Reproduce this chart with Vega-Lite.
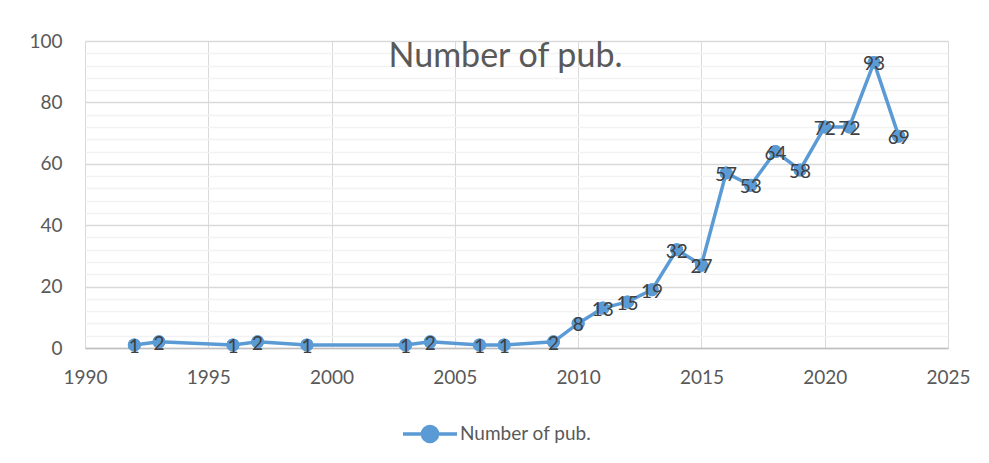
{
  "$schema": "https://vega.github.io/schema/vega-lite/v6.json",
  "width": 863,
  "height": 307,
  "autosize": {"type": "none"},
  "padding": {"left": 85, "top": 41, "right": 41, "bottom": 115},
  "background": "white",
  "title": {
    "text": "Number of pub.",
    "font": "Lato",
    "fontSize": 34,
    "fontWeight": "normal",
    "color": "#595959",
    "anchor": "middle",
    "baseline": "alphabetic",
    "offset": 0,
    "dy": 69,
    "dx": -11
  },
  "data": {
    "values": [
      {"year": 1992, "count": 1, "series": "Number of pub."},
      {"year": 1993, "count": 2, "series": "Number of pub."},
      {"year": 1996, "count": 1, "series": "Number of pub."},
      {"year": 1997, "count": 2, "series": "Number of pub."},
      {"year": 1999, "count": 1, "series": "Number of pub."},
      {"year": 2003, "count": 1, "series": "Number of pub."},
      {"year": 2004, "count": 2, "series": "Number of pub."},
      {"year": 2006, "count": 1, "series": "Number of pub."},
      {"year": 2007, "count": 1, "series": "Number of pub."},
      {"year": 2009, "count": 2, "series": "Number of pub."},
      {"year": 2010, "count": 8, "series": "Number of pub."},
      {"year": 2011, "count": 13, "series": "Number of pub."},
      {"year": 2012, "count": 15, "series": "Number of pub."},
      {"year": 2013, "count": 19, "series": "Number of pub."},
      {"year": 2014, "count": 32, "series": "Number of pub."},
      {"year": 2015, "count": 27, "series": "Number of pub."},
      {"year": 2016, "count": 57, "series": "Number of pub."},
      {"year": 2017, "count": 53, "series": "Number of pub."},
      {"year": 2018, "count": 64, "series": "Number of pub."},
      {"year": 2019, "count": 58, "series": "Number of pub."},
      {"year": 2020, "count": 72, "series": "Number of pub."},
      {"year": 2021, "count": 72, "series": "Number of pub."},
      {"year": 2022, "count": 93, "series": "Number of pub."},
      {"year": 2023, "count": 69, "series": "Number of pub."}
    ]
  },
  "encoding": {
    "x": {
      "field": "year",
      "type": "quantitative",
      "scale": {"domain": [1990, 2025], "nice": false, "zero": false},
      "axis": {
        "title": null,
        "values": [1990, 1995, 2000, 2005, 2010, 2015, 2020, 2025],
        "format": "d",
        "grid": true,
        "gridColor": "#D9D9D9",
        "gridWidth": 1,
        "domain": true,
        "domainColor": "#BFBFBF",
        "domainWidth": 1.5,
        "ticks": false,
        "labelPadding": 20,
        "labelFont": "Lato",
        "labelFontSize": 19,
        "labelColor": "#595959",
        "labelFlush": false
      }
    }
  },
  "layer": [
    {
      "mark": {"type": "point", "filled": true, "size": 170, "opacity": 1, "color": "#5B9BD5"},
      "encoding": {
        "y": {
          "field": "count",
          "type": "quantitative",
          "scale": {"domain": [0, 100], "nice": false},
          "axis": {
            "title": null,
            "orient": "left",
            "values": [4, 8, 12, 16, 24, 28, 32, 36, 44, 48, 52, 56, 64, 68, 72, 76, 84, 88, 92, 96],
            "labels": false,
            "ticks": false,
            "domain": false,
            "grid": true,
            "gridColor": "#F2F2F2",
            "gridWidth": 1.5,
            "zindex": 0
          }
        }
      }
    },
    {
      "mark": {"type": "line", "strokeWidth": 3.5},
      "encoding": {
        "y": {
          "field": "count",
          "type": "quantitative",
          "axis": {
            "title": null,
            "orient": "left",
            "values": [0, 20, 40, 60, 80, 100],
            "grid": true,
            "gridColor": "#D9D9D9",
            "gridWidth": 1.5,
            "ticks": false,
            "domain": false,
            "labelPadding": 23,
            "labelFont": "Lato",
            "labelFontSize": 19,
            "labelColor": "#595959",
            "zindex": 0
          }
        },
        "color": {
          "field": "series",
          "type": "nominal",
          "scale": {"range": ["#5B9BD5"]},
          "legend": {
            "title": null,
            "orient": "none",
            "legendX": 316,
            "legendY": 364,
            "padding": 0,
            "symbolType": "M-1,0L1,0M-0.28,0A0.28,0.28 0 1,1 0.28,0A0.28,0.28 0 1,1 -0.28,0Z",
            "symbolSize": 2916,
            "symbolStrokeWidth": 3.5,
            "symbolFillColor": "#5B9BD5",
            "symbolStrokeColor": "#5B9BD5",
            "symbolOpacity": 1,
            "labelFont": "Lato",
            "labelFontSize": 19,
            "labelColor": "#595959",
            "labelOffset": 1
          }
        }
      }
    },
    {
      "mark": {"type": "point", "filled": true, "size": 170, "opacity": 1, "color": "#5B9BD5"},
      "encoding": {"y": {"field": "count", "type": "quantitative", "axis": null}}
    },
    {
      "mark": {"type": "text", "font": "Lato", "fontSize": 19, "color": "#404040", "baseline": "middle", "align": "center", "dy": 2},
      "encoding": {
        "y": {"field": "count", "type": "quantitative", "axis": null},
        "text": {"field": "count", "type": "quantitative"}
      }
    }
  ],
  "resolve": {"axis": {"y": "independent"}},
  "config": {"view": {"stroke": null}}
}
